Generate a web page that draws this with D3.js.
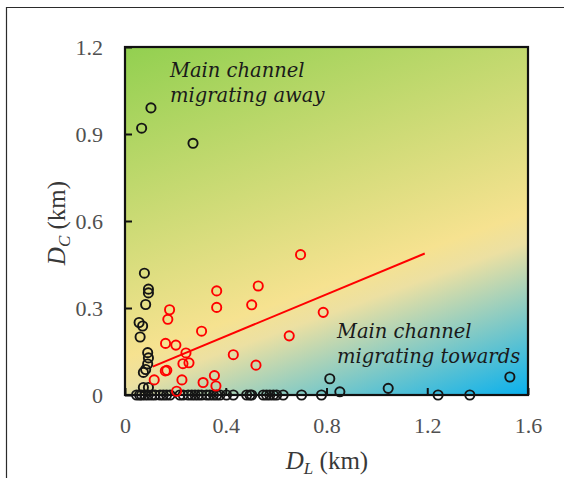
<!DOCTYPE html>
<html>
<head>
<meta charset="utf-8">
<script src="https://cdn.jsdelivr.net/npm/d3@7"></script>
<style>
  html, body { margin: 0; padding: 0; background: #ffffff; }
  svg { display: block; }
</style>
</head>
<body>
<svg id="chart" width="564" height="478"></svg>
<script>
// Lateral (D_L) and cross-channel (D_C) migration distances, km.
// Black: all observations; red: subset used for the fitted trend.
const blackDL = [0.103, 0.066, 0.270, 0.077, 0.093, 0.093, 0.082, 0.056, 0.070, 0.060,
                 0.090, 0.093, 0.090, 0.082, 0.073, 0.073, 0.093, 0.813, 0.853, 1.045, 1.528,
                 0.046, 0.058, 0.066, 0.079, 0.092, 0.106, 0.119, 0.139, 0.152, 0.165,
                 0.179, 0.218, 0.231, 0.251, 0.265, 0.278, 0.291, 0.304, 0.324, 0.337,
                 0.351, 0.364, 0.377, 0.403, 0.430, 0.483, 0.496, 0.503, 0.549, 0.562,
                 0.575, 0.589, 0.602, 0.628, 0.701, 0.780, 1.243, 1.369];
const blackDC = [0.990, 0.920, 0.868, 0.420, 0.365, 0.352, 0.312, 0.250, 0.238, 0.200,
                 0.146, 0.128, 0.107, 0.088, 0.078, 0.026, 0.026, 0.056, 0.011, 0.023, 0.062,
                 0, 0, 0, 0, 0, 0, 0, 0, 0, 0,
                 0, 0, 0, 0, 0, 0, 0, 0, 0, 0,
                 0, 0, 0, 0, 0, 0, 0, 0, 0, 0,
                 0, 0, 0, 0, 0, 0, 0, 0];

const redDL = [0.697, 0.529, 0.364, 0.364, 0.503, 0.177, 0.170, 0.304, 0.787, 0.652,
               0.161, 0.202, 0.242, 0.230, 0.254, 0.430, 0.520, 0.160, 0.166, 0.116,
               0.226, 0.310, 0.355, 0.361, 0.205];
const redDC = [0.484, 0.376, 0.359, 0.302, 0.311, 0.294, 0.261, 0.220, 0.285, 0.204,
               0.178, 0.172, 0.145, 0.108, 0.111, 0.139, 0.103, 0.083, 0.085, 0.052,
               0.052, 0.043, 0.067, 0.031, 0.013];

// Linear trend through the red subset (end points)
const trendDL = [0.11, 1.19];
const trendDC = [0.098, 0.488];

const xTicks = [0, 0.4, 0.8, 1.2, 1.6];
const xTickLabels = ["0", "0.4", "0.8", "1.2", "1.6"];
const yTicks = [0, 0.3, 0.6, 0.9, 1.2];
const yTickLabels = ["0", "0.3", "0.6", "0.9", "1.2"];

const annotationAway = ["Main channel", "migrating away"];
const annotationTowards = ["Main channel", "migrating towards"];

const svg = d3.select("#chart");
const margin = { left: 125, top: 47, right: 36, bottom: 83 };
const W = 564, H = 478;
const pw = W - margin.left - margin.right;   // 403
const ph = H - margin.top - margin.bottom;   // 348

// Outer frame (open at right/bottom edges of the window)
svg.append("path")
  .attr("d", `M6.5,${H} V7.5 H${W}`)
  .attr("fill", "none")
  .attr("stroke", "#2b2b2b")
  .attr("stroke-width", 1.2);

const x = d3.scaleLinear().domain([0, 1.6]).range([0, pw]);
const y = d3.scaleLinear().domain([0, 1.2]).range([ph, 0]);

const g = svg.append("g").attr("transform", `translate(${margin.left},${margin.top})`);

// Background gradient: green (top-left) -> yellow -> blue (bottom-right)
const ang = Math.atan2(0.94, 0.34);
const ux = Math.cos(ang), uy = Math.sin(ang);
const len = pw * ux + ph * uy;
const defs = svg.append("defs");
const grad = defs.append("linearGradient")
  .attr("id", "bg")
  .attr("gradientUnits", "userSpaceOnUse")
  .attr("x1", 0).attr("y1", 0)
  .attr("x2", ux * len).attr("y2", uy * len);
[[0, "#92d050"], [0.63, "#f6e290"], [0.69, "#ece0a2"], [1, "#08b0ee"]]
  .forEach(([o, c]) => grad.append("stop").attr("offset", o).attr("stop-color", c));

g.append("rect")
  .attr("width", pw).attr("height", ph)
  .attr("fill", "url(#bg)");

// Axes with inward ticks
const fontTick = "'Liberation Serif', 'Times New Roman', serif";
const xAxis = d3.axisBottom(x)
  .tickValues(xTicks)
  .tickFormat((d, i) => xTickLabels[i])
  .tickSizeInner(-7).tickSizeOuter(0).tickPadding(22);
const yAxis = d3.axisLeft(y)
  .tickValues(yTicks)
  .tickFormat((d, i) => yTickLabels[i])
  .tickSizeInner(-7).tickSizeOuter(0).tickPadding(22);

const gx = g.append("g").attr("transform", `translate(0,${ph})`).call(xAxis);
const gy = g.append("g").call(yAxis);
[gx, gy].forEach(a => {
  a.select(".domain").remove();
  a.selectAll(".tick line").attr("stroke", "#111").attr("stroke-width", 2);
  a.selectAll(".tick text")
    .attr("fill", "#505050")
    .style("font-family", fontTick)
    .style("font-size", "22px");
});

// Plot border
g.append("rect")
  .attr("width", pw).attr("height", ph)
  .attr("fill", "none")
  .attr("stroke", "#111")
  .attr("stroke-width", 2.2);

// Annotations
const fontNote = "'DejaVu Serif', serif";
function note(lines, x0, y0) {
  const t = g.append("text")
    .attr("x", x0).attr("y", y0)
    .attr("fill", "#1a1a1a")
    .style("font-family", fontNote)
    .style("font-style", "italic")
    .style("font-size", "19.5px");
  lines.forEach((s, i) => t.append("tspan").attr("x", x0).attr("dy", i === 0 ? 0 : 24.5).text(s));
}
note(annotationAway, 170 - margin.left, 77 - margin.top);
note(annotationTowards, 337 - margin.left, 338 - margin.top);

// Trend line
g.append("line")
  .attr("x1", x(trendDL[0])).attr("y1", y(trendDC[0]))
  .attr("x2", x(trendDL[1])).attr("y2", y(trendDC[1]))
  .attr("stroke", "#ff0000")
  .attr("stroke-width", 2);

// Points
const blackPts = blackDL.map((d, i) => [d, blackDC[i]]);
const redPts = redDL.map((d, i) => [d, redDC[i]]);

g.append("g").selectAll("circle").data(blackPts).join("circle")
  .attr("cx", d => x(d[0])).attr("cy", d => y(d[1]))
  .attr("r", 4.6)
  .attr("fill", "none")
  .attr("stroke", "#151515")
  .attr("stroke-width", 1.9);

g.append("g").selectAll("circle").data(redPts).join("circle")
  .attr("cx", d => x(d[0])).attr("cy", d => y(d[1]))
  .attr("r", 4.6)
  .attr("fill", "none")
  .attr("stroke", "#ff0000")
  .attr("stroke-width", 1.9);

// Axis titles: italic symbol with italic subscript, then unit
const fontTitle = "'Liberation Serif', 'Times New Roman', serif";
function title(sel, sym, sub) {
  sel.attr("fill", "#383838")
    .style("font-family", fontTitle)
    .style("font-size", "25px")
    .attr("text-anchor", "middle");
  sel.append("tspan").style("font-style", "italic").text(sym);
  sel.append("tspan").style("font-style", "italic").style("font-size", "17px")
    .attr("dy", 5).text(sub);
  sel.append("tspan").attr("dy", -5).text(" (km)");
}
title(svg.append("text").attr("x", 327).attr("y", 469), "D", "L");
title(svg.append("text").attr("transform", "translate(65,223) rotate(-90)"), "D", "C");
</script>
</body>
</html>
